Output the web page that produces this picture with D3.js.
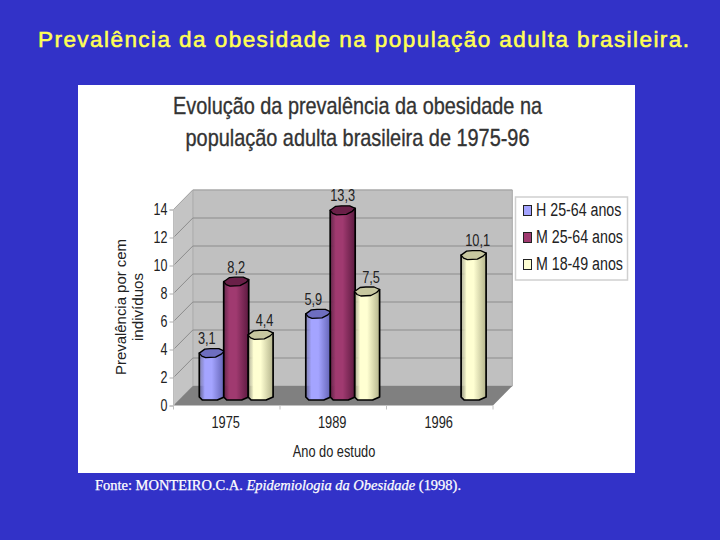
<!DOCTYPE html>
<html><head><meta charset="utf-8">
<script src="https://cdn.jsdelivr.net/npm/d3@7"></script>
<style>html,body{margin:0;padding:0;background:#3232C8}svg{display:block}</style>
</head><body><svg id="c" width="720" height="540"></svg>
<script>
const categories = ["1975","1989","1996"];
const seriesNames = ["H 25-64 anos","M 25-64 anos","M 18-49 anos"];
const seriesH = [3.1,5.9,null];
const seriesM = [8.2,13.3,null];
const seriesF = [4.4,7.5,10.1];
const yTicks = [0,2,4,6,8,10,12,14];
const colors = [["#A4A4FF","#6262B4","#6E6EC0"],["#A03A70","#5C1A40","#6A2048"],["#FFFFD2","#B4B48C","#C8C8A0"]];
const SANS = "'Liberation Sans',Arial,sans-serif";

const svg = d3.select("#c");
// condense any text horizontally to the given fraction of its natural width
function squeeze(sel,f){
  sel.each(function(){
    const n=this.getComputedTextLength();
    d3.select(this).attr("textLength",n*f).attr("lengthAdjust","spacingAndGlyphs");
  });
  return sel;
}
const defs = svg.append("defs");
colors.forEach((c,i)=>{
  const g = defs.append("linearGradient").attr("id","g"+i);
  g.append("stop").attr("offset","0").attr("stop-color",c[1]).attr("stop-opacity",i==1?0.9:0.55);
  g.append("stop").attr("offset","0.22").attr("stop-color",c[0]);
  g.append("stop").attr("offset","0.5").attr("stop-color",c[0]);
  g.append("stop").attr("offset","1").attr("stop-color",c[1]);
});
// panel
svg.append("rect").attr("x",78).attr("y",85).attr("width",557).attr("height",388).attr("fill","#fff");
svg.append("text").attr("x",363.5).attr("y",47).attr("text-anchor","middle")
  .attr("font-family",SANS).attr("font-size",22.5).attr("fill","#FFFF55")
  .attr("stroke","#FFFF55").attr("stroke-width",0.55)
  .attr("textLength",651).attr("lengthAdjust","spacing")
  .text("Prevalência da obesidade na população adulta brasileira.");
const src = svg.append("text").attr("x",95).attr("y",490).attr("font-family","'Liberation Serif',serif")
  .attr("font-size",14).attr("fill","#fff").attr("stroke","#fff").attr("stroke-width",0.25)
  .attr("textLength",366).attr("lengthAdjust","spacingAndGlyphs");
src.append("tspan").text("Fonte: MONTEIRO.C.A. ");
src.append("tspan").attr("font-style","italic").text("Epidemiologia da Obesidade");
src.append("tspan").text(" (1998).");

[["Evolução da prevalência da obesidade na",114,369],["população adulta brasileira de 1975-96",146,344]].forEach(d=>{
  svg.append("text").attr("x",357.5).attr("y",d[1]).attr("text-anchor","middle")
   .attr("font-family",SANS).attr("font-size",24).attr("fill","#333").attr("stroke","#333").attr("stroke-width",0.35)
   .attr("textLength",d[2]).attr("lengthAdjust","spacingAndGlyphs").text(d[0]);
});

// scales
const dx = 19.3, dy = -19.5;
const x = d3.scaleBand().domain(categories).range([173.5,493]);
const y = d3.scaleLinear().domain([0,14]).range([405.5,209.5]);
const xs = d3.scaleBand().domain([0,1,2]).range([-36.6,36.6]);
const xL = x.range()[0], xR = x.range()[1], y0 = y(0), yT = y(14);

// walls
const P = a=>a.map(p=>p.join(",")).join(" ");
svg.append("polygon").attr("points",P([[xL+dx,y0+dy],[xR+dx,y0+dy],[xR+dx,yT+dy],[xL+dx,yT+dy]])).attr("fill","#C0C0C0").attr("stroke","#A8A8A8");
svg.append("polygon").attr("points",P([[xL,y0],[xL+dx,y0+dy],[xL+dx,yT+dy],[xL,yT]])).attr("fill","#C4C4C4").attr("stroke","#B0B0B0");
svg.append("polygon").attr("points",P([[xL,y0],[xR,y0],[xR+dx,y0+dy],[xL+dx,y0+dy]])).attr("fill","#808080");
yTicks.filter(t=>t>0).forEach(t=>{
  const l = svg.append("polyline").attr("fill","none").attr("stroke","#8C8C8C").attr("stroke-width",1)
   .attr("points",P([[xL,y(t)],[xL+dx,y(t)+dy],[xR+dx,y(t)+dy]]));
  if(t==14) l.attr("stroke","#A8A8A8");
});

// axes
const yAxis = d3.axisLeft(y).tickValues(yTicks).tickSize(4).tickPadding(2);
const ga = svg.append("g").attr("transform",`translate(${xL},0)`).call(yAxis);
ga.select(".domain").attr("stroke","#C8C8C8");
ga.selectAll("line").attr("stroke","#B0B0B0");
squeeze(ga.selectAll("text").attr("font-family",SANS).attr("font-size",16).attr("fill","#222"),0.78);
const xTickPos = [xL,xL+x.step(),xL+2*x.step(),xR];
svg.selectAll(".xt").data(xTickPos).join("line").attr("x1",d=>d).attr("x2",d=>d).attr("y1",y0).attr("y2",y0+4).attr("stroke","#C0C0C0");
svg.append("line").attr("x1",xL).attr("x2",xR).attr("y1",y0).attr("y2",y0).attr("stroke","#C0C0C0");
squeeze(svg.selectAll(".xl").data(categories).join("text").attr("x",d=>x(d)+x.bandwidth()/2-1).attr("y",428)
  .attr("text-anchor","middle").attr("font-family",SANS).attr("font-size",16).attr("fill","#222").text(d=>d),0.8);
squeeze(svg.append("text").attr("x",334).attr("y",457).attr("text-anchor","middle").attr("font-family",SANS).attr("font-size",16).attr("fill","#222").text("Ano do estudo"),0.8);
[["Prevalência por cem",126,136],["indivíduos",143,68]].forEach(d=>{
  svg.append("text").attr("transform",`translate(${d[1]},307) rotate(-90)`).attr("text-anchor","middle")
    .attr("font-family",SANS).attr("font-size",15.5).attr("fill","#222").attr("textLength",d[2]).attr("lengthAdjust","spacingAndGlyphs").text(d[0]);
});

// bars
const series = [seriesH,seriesM,seriesF];
const topShift = -9, baseY = y0-5.5;
function barPath(x0,w,t){
  const b=baseY;
  return `M${x0},${t} L${x0},${b-3} L${x0+3},${b} L${x0+w-7},${b} L${x0+w},${b-3} L${x0+w},${t-2} Z`;
}
function capPoints(x0,w,t){
  return P([[x0,t],[x0+w*.22,t-4],[x0+w*.45,t-4.5],[x0+w*.78,t-4.5],[x0+w,t-2],[x0+w*.88,t+1],[x0+w*.65,t+4],[x0+w*.25,t+4.5],[x0+w*.1,t+3]]);
}
const w = xs.bandwidth()+0.6;
series.forEach((vals,si)=>{
  const rows = categories.map((c,i)=>({c,v:vals[i]})).filter(d=>d.v!=null);
  const gs = svg.append("g");
  const cx = d=>x(d.c)+x.bandwidth()/2+dx/2-0.5+xs(si);
  gs.selectAll("path").data(rows).join("path")
    .attr("d",d=>barPath(cx(d),w,y(d.v)+topShift))
    .attr("fill",`url(#g${si})`).attr("stroke","#000").attr("stroke-width",1.7).attr("stroke-linejoin","round");
  gs.selectAll("polygon").data(rows).join("polygon")
    .attr("points",d=>capPoints(cx(d),w,y(d.v)+topShift))
    .attr("fill",colors[si][2]).attr("stroke","#000").attr("stroke-width",1.3).attr("stroke-linejoin","round");
});
// labels drawn on top
series.forEach((vals,si)=>{
  const rows = categories.map((c,i)=>({c,v:vals[i]})).filter(d=>d.v!=null);
  squeeze(svg.append("g").selectAll("text").data(rows).join("text")
    .attr("x",d=>x(d.c)+x.bandwidth()/2+dx/2-0.5+xs(si)+w/2+(si==0?-5:si==2?4:0))
    .attr("y",d=>y(d.v)+topShift-9)
    .attr("text-anchor","middle").attr("font-family",SANS).attr("font-size",16).attr("fill","#222")
    .text(d=>String(d.v).replace(".",",")),0.8);
});

// legend
svg.append("rect").attr("x",515.5).attr("y",197).attr("width",112).attr("height",83).attr("fill","#fff").attr("stroke","#D0D0D0").attr("stroke-width",1.5);
const ly = d3.scalePoint().domain(seriesNames).range([209,263]);
seriesNames.forEach((n,i)=>{
  svg.append("rect").attr("x",523.5).attr("y",ly(n)-3.5).attr("width",8).attr("height",10).attr("fill",colors[i][0]).attr("stroke","#222");
  squeeze(svg.append("text").attr("x",536).attr("y",ly(n)+6.5).attr("font-family",SANS).attr("font-size",18).attr("fill","#222").text(n),0.79);
});
</script></body></html>
